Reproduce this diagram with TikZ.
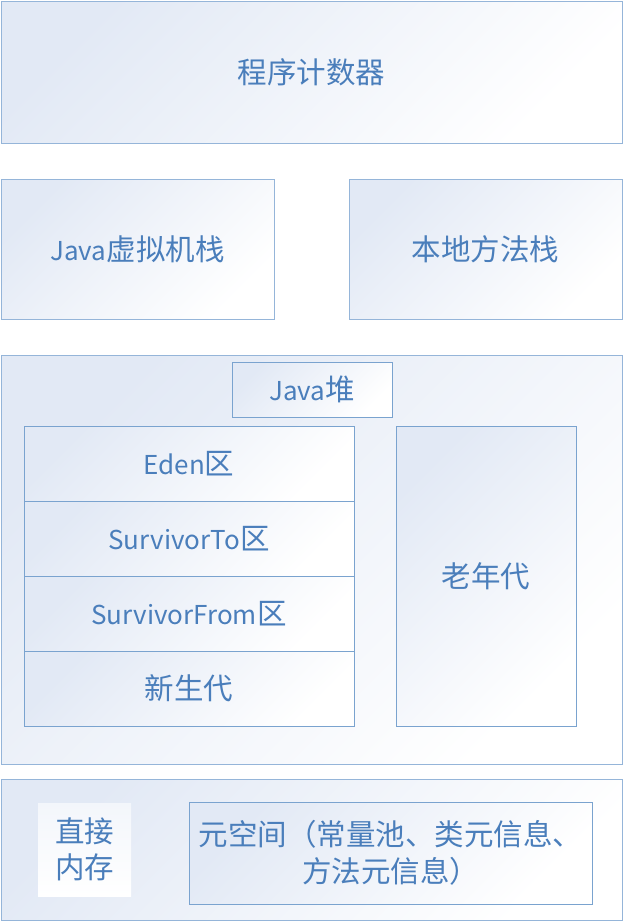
\documentclass[tikz,border=0pt]{standalone}
\usepackage{fontspec}
\setmainfont{Noto Sans CJK SC}
\definecolor{txtc}{HTML}{4A7EBB}
\definecolor{outerc}{HTML}{95B5D9}
\definecolor{innerc}{HTML}{7AA3CF}
\definecolor{topc}{HTML}{E2E9F5}
\definecolor{midc}{HTML}{F3F6FB}
\newcommand\lat[1]{{\fontsize{26}{36}\selectfont #1}}
\tikzset{
  box/.style={rectangle, draw=innerc, line width=1pt, inner sep=0pt, outer sep=0pt,
    shading=axis, top color=topc, middle color=midc, bottom color=white, shading angle=45,
    text=txtc, font=\fontsize{29.5}{36.5}\selectfont, align=center},
  outerbox/.style={box, draw=outerc},
  plainbox/.style={box, draw=none, top color=midc, middle color=white, bottom color=white}
}
\begin{document}
\begin{tikzpicture}[x=1pt,y=-1pt]
\useasboundingbox (0,0) rectangle (624,922);
\node[outerbox, minimum width=621, minimum height=142] (pc) at (311.5,72) {程序计数器};
\node[outerbox, minimum width=273, minimum height=140] (jvm) at (137.5,249) {\lat{Java}虚拟机栈};
\node[outerbox, minimum width=273, minimum height=140] (native) at (485.5,249) {本地方法栈};
\node[outerbox, minimum width=621, minimum height=409] (heap) at (311.5,559.5) {};
\node[box, minimum width=160, minimum height=55] (jheap) at (312,389.5) {\lat{Java}堆};
\node[box, minimum width=330, minimum height=75] (eden) at (189,463.5) {\lat{Eden}区};
\node[box, minimum width=330, minimum height=75] (sto) at (189,538.5) {\lat{SurvivorTo}区};
\node[box, minimum width=330, minimum height=75] (sfrom) at (189,613.5) {\lat{SurvivorFrom}区};
\node[box, minimum width=330, minimum height=75] (young) at (189,688.5) {新生代};
\node[box, minimum width=180, minimum height=300] (old) at (486,576) {老年代};
\node[outerbox, minimum width=621, minimum height=141] (bottom) at (311.5,849.5) {};
\node[plainbox, minimum width=93, minimum height=93] (direct) at (84.5,849.5) {直接\\内存};
\node[box, minimum width=403, minimum height=102] (meta) at (390.5,853) {元空间（常量池、类元信息、\\方法元信息）};
\end{tikzpicture}
\end{document}
